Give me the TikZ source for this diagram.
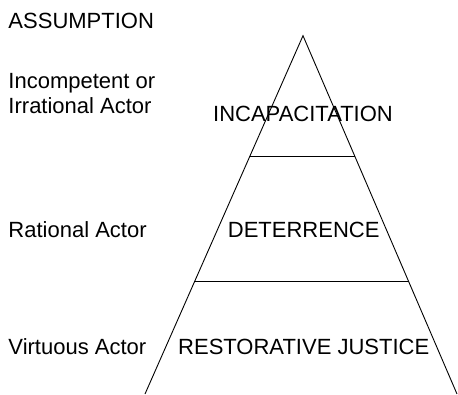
\documentclass[tikz,border=0pt]{standalone}
\usepackage{fontspec}
\setmainfont{Liberation Sans}
\usetikzlibrary{calc}
\begin{document}
\begin{tikzpicture}[x=1pt,y=-1pt,
  lbl/.style={inner sep=0pt,font=\fontsize{22}{25}\selectfont},
  edge/.style={line width=0.9pt,black}]
\useasboundingbox (0,0) rectangle (458,394);
% assumption labels
\node[lbl,anchor=base west] (head) at (8.3,28) {ASSUMPTION};
\node[lbl,anchor=base west] (inc1) at (8.3,88) {Incompetent or};
\node[lbl,anchor=base west] (inc2) at (8.3,113) {Irrational Actor};
\node[lbl,anchor=base west] (rat) at (8.3,237.3) {Rational Actor};
\node[lbl,anchor=base west] (vir) at (8.3,354) {Virtuous Actor};
% pyramid
\coordinate (apex) at (303,35.7);
\coordinate (bl) at (145,394);
\coordinate (br) at (457,394);
\coordinate (l1) at ($(apex)!0.3361!(bl)$);
\coordinate (r1) at ($(apex)!0.3361!(br)$);
\coordinate (l2) at ($(apex)!0.6865!(bl)$);
\coordinate (r2) at ($(apex)!0.6865!(br)$);
\draw[edge] (bl) -- (apex) -- (br);
\draw[edge] (l1) -- (r1);
\draw[edge] (l2) -- (r2);
% level labels
\node[lbl,anchor=base] (incap) at (303,121) {INCAPACITATION};
\node[lbl,anchor=base] (det) at (303.7,237.3) {DETERRENCE};
\node[lbl,anchor=base] (rest) at (303.7,354) {RESTORATIVE JUSTICE};
\end{tikzpicture}
\end{document}
